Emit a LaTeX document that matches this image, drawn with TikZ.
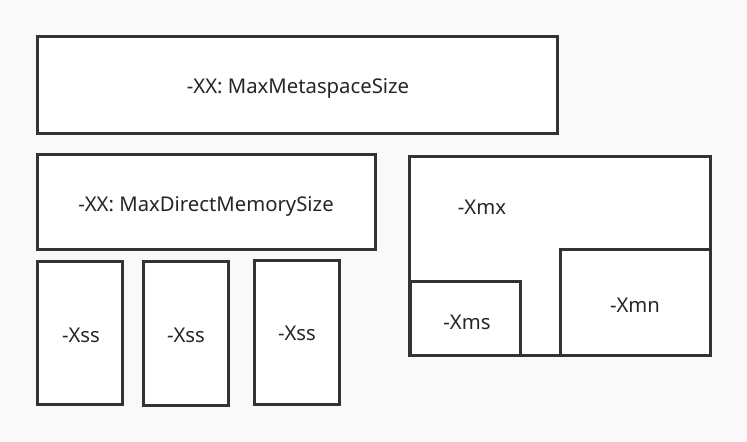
\documentclass[tikz,border=0pt]{standalone}
\usepackage{fontspec}
\setmainfont{Noto Sans}
\begin{document}
\begin{tikzpicture}[x=1bp,y=-1bp,
  box/.style={draw=boxline,fill=white,line width=3bp},
  lbl/.style={font=\fontsize{20.3bp}{22bp}\selectfont,text=textcol,inner sep=0pt}]
\definecolor{boxline}{HTML}{333333}
\definecolor{textcol}{HTML}{262626}
\definecolor{bg}{HTML}{F9F9F9}
\fill[bg] (0,0) rectangle (747,442);
\useasboundingbox (0,0) rectangle (747,442);
% boxes
\draw[box] (37,37) rectangle (557,134);
\draw[box] (37,155) rectangle (375,250);
\draw[box] (37.5,262) rectangle (122.5,404);
\draw[box] (143.5,262) rectangle (228.5,405);
\draw[box] (254,261) rectangle (339,404);
\draw[box] (409.5,157) rectangle (710,355);
\draw[box] (410,282) rectangle (520,355);
\draw[box] (560,250) rectangle (710,355);
% labels
\node[lbl] (meta) at (298,88) {-XX: MaxMetaspaceSize};
\node[lbl] (direct) at (206,206) {-XX: MaxDirectMemorySize};
\node[lbl] (xss1) at (81,335) {-Xss};
\node[lbl] (xss2) at (186,335) {-Xss};
\node[lbl] (xss3) at (297,333) {-Xss};
\node[lbl] (xmx) at (482,207) {-Xmx};
\node[lbl] (xms) at (467,322) {-Xms};
\node[lbl] (xmn) at (635,305) {-Xmn};
\end{tikzpicture}
\end{document}
